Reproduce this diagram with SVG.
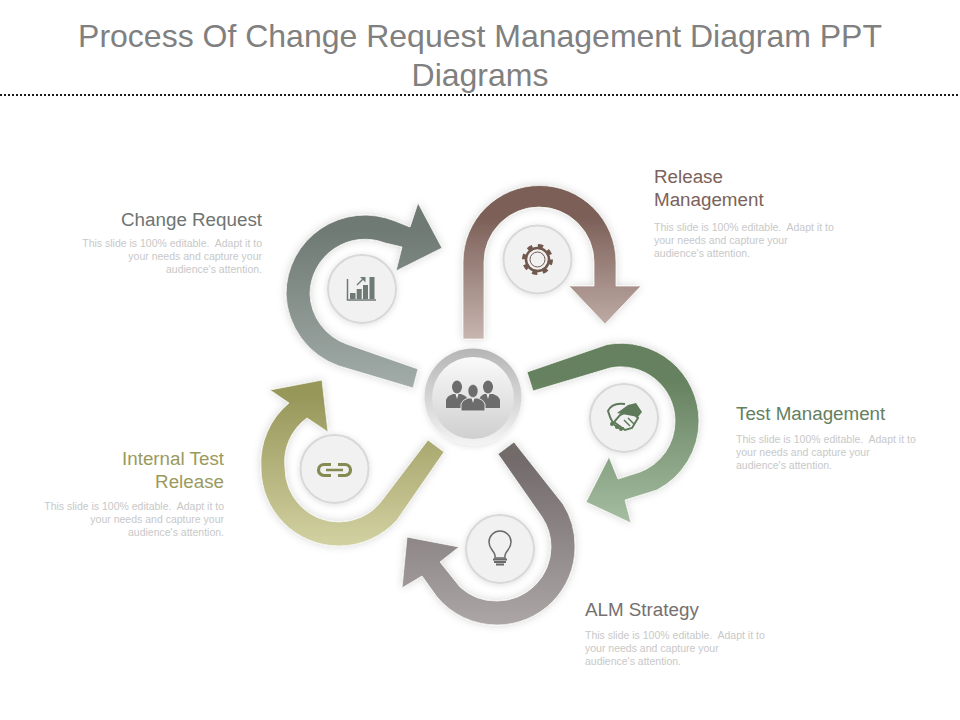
<svg xmlns="http://www.w3.org/2000/svg" width="960" height="720" viewBox="0 0 960 720">
<style>
text{font-family:"Liberation Sans",Arial,sans-serif;white-space:pre}
.t{font-size:32px;fill:#808080;text-anchor:middle}
.h{font-size:18.8px}
.b{font-size:10.5px;fill:#c8c8c8}
.e{text-anchor:end}
.disc{fill:#f1f1f1;stroke:#d8d8d8;stroke-width:2;filter:url(#sh)}
.arrow{stroke:#f6f6f2;stroke-width:.8;filter:url(#sh2)}
</style>
<defs>
<filter id="sh" x="-30%" y="-30%" width="160%" height="160%"><feDropShadow dx="0" dy="1" stdDeviation="3" flood-color="#000" flood-opacity=".13"/></filter>
<filter id="sh2" x="-20%" y="-20%" width="140%" height="140%"><feDropShadow dx="0" dy="0" stdDeviation="4" flood-color="#000" flood-opacity=".16"/></filter>
<linearGradient id="g1" x1="0" y1="0" x2="0" y2="1"><stop offset=".15" stop-color="#6f7a75"/><stop offset="1" stop-color="#a2aca8"/></linearGradient>
<linearGradient id="g2" x1="0" y1="0" x2="0" y2="1"><stop offset=".2" stop-color="#7b5f57"/><stop offset="1" stop-color="#c7b5af"/></linearGradient>
<linearGradient id="g3" x1="0" y1="0" x2="0" y2="1"><stop offset=".2" stop-color="#65815f"/><stop offset="1" stop-color="#a5bda1"/></linearGradient>
<linearGradient id="g4" x1="0" y1="0" x2="0" y2="1"><stop offset=".1" stop-color="#736a6b"/><stop offset="1" stop-color="#aca6a6"/></linearGradient>
<linearGradient id="g5" x1="0" y1="0" x2="0" y2="1"><stop offset=".1" stop-color="#98975a"/><stop offset="1" stop-color="#d2d1a2"/></linearGradient>
<linearGradient id="ring" x1="0" y1="0" x2="0" y2="1"><stop offset="0" stop-color="#b5b5b5"/><stop offset="1" stop-color="#f4f4f4"/></linearGradient>
<linearGradient id="core" x1="0" y1="0" x2="0" y2="1"><stop offset="0" stop-color="#fafafa"/><stop offset="1" stop-color="#cfcfcf"/></linearGradient>
</defs>
<rect width="960" height="720" fill="#fff"/>
<g id="title">
<text class="t" x="480" y="47">Process Of Change Request Management Diagram PPT</text>
<text class="t" x="480" y="86">Diagrams</text>
<line x1="0" y1="95" x2="960" y2="95" stroke="#1a1a1a" stroke-width="2" stroke-dasharray="2 2"/>
</g>
<g id="connectors">
<path class="arrow" fill="url(#g1)" d="M418,369 L346.500,344 A55,55 0 0 1 310,294 A55,55 0 0 1 385,243 L402,247 L396,271 L442,248 L418,203 L410,227 L395,221 A79,79 0 0 0 286,294 A79,79 0 0 0 339,366 L413,388 Z"/>
<path class="arrow" fill="url(#g2)" d="M463,339 V262 A76.500,76.500 0 0 1 616,262 V286 H641 L605,324 L569,286 H594 V262 A55,55 0 0 0 484,262 V339 Z"/>
<path class="arrow" fill="url(#g3)" d="M527,372 L607,344.500 A78,78 0 0 1 699,421 A78,78 0 0 1 657,490 L625,500 L631,523 L586,502 L609,457 L618,479 L640,472 A54,54 0 0 0 675,421 A54,54 0 0 0 610,368 L533,391 Z"/>
<path class="arrow" fill="url(#g4)" d="M514,442 L563,504 A78,78 0 0 1 575,547 A78,78 0 0 1 497,625 A78,78 0 0 1 437,597 L422,576 L402,588 L407,537 L459,547 L440,562 L460,587 A54,54 0 0 0 497,601 A54,54 0 0 0 551,547 A54,54 0 0 0 542,517 L498,454 Z"/>
<path class="arrow" fill="url(#g5)" d="M444,452 L397,520 A78,78 0 0 1 339,546 A78,78 0 0 1 261,468 A78,78 0 0 1 289,403 L270,390 L322,380 L328,432 L307,418 A54,54 0 0 0 285,468 A54,54 0 0 0 339,522 A54,54 0 0 0 380,503 L428,440 Z"/>
</g>
<g id="node-center">
<circle cx="473" cy="397" r="48.500" fill="url(#ring)" filter="url(#sh)"/>
<circle cx="473" cy="398" r="41" fill="url(#core)"/>
<g fill="#6c6c6c">
<ellipse cx="457" cy="387" rx="5" ry="6.500"/><path d="M446,408 V400 Q447,396 453,394 H461 Q467,396 468,400 V408 Z"/>
<ellipse cx="488" cy="387" rx="5" ry="6.500"/><path d="M479,408 V400 Q480,396 484,394 H493 Q499,396 500,400 V408 Z"/>
<path d="M461,411 V404 Q462,400 468,398 H478 Q484,400 485,404 V411 Z" stroke="#e4e4e4" stroke-width="1"/>
<ellipse cx="473" cy="391" rx="5" ry="6.500" stroke="#e4e4e4" stroke-width=".6"/>
</g>
<path d="M471.500,398 L473,403 L474.500,398 Z M455.500,394 L457,399 L458.500,394 Z M486.500,394 L488,399 L489.500,394 Z" fill="#eee"/>
</g>
<g id="node-change-request">
<circle class="disc" cx="362" cy="289" r="34"/>
<path d="M347.500,279 V300 H376" fill="none" stroke="#6f7a75" stroke-width="1.500"/>
<path d="M350,293 h5.500 v6 h-5.500 Z M356.700,289 h5 v10 h-5 Z M363,285 h5 v14 h-5 Z M369.500,277 h5 v22 h-5 Z" fill="#6f7a75"/>
<path d="M357,285 L363,279" stroke="#6f7a75" stroke-width="1.500"/>
<path d="M360,277 H365.500 V282.500 Z" fill="#6f7a75"/>
<text class="h e" x="262" y="226" fill="#6e7472">Change Request</text>
<text class="b e" x="262" y="247">This slide is 100% editable.  Adapt it to</text>
<text class="b e" x="262" y="260">your needs and capture your</text>
<text class="b e" x="262" y="273">audience's attention.</text>
</g>
<g id="node-release-management">
<circle class="disc" cx="537.500" cy="259.500" r="34"/>
<circle cx="537.500" cy="259.500" r="13" fill="none" stroke="#72594f" stroke-width="5" stroke-dasharray="5 5.200"/>
<circle cx="537.500" cy="259.500" r="11.500" fill="none" stroke="#72594f" stroke-width="2.500"/>
<circle cx="537.500" cy="259.500" r="7.500" fill="none" stroke="#72594f" stroke-width="1"/>
<text class="h" x="654" y="183" fill="#7b625a">Release</text>
<text class="h" x="654" y="206" fill="#7b625a">Management</text>
<text class="b" x="654" y="231">This slide is 100% editable.  Adapt it to</text>
<text class="b" x="654" y="244">your needs and capture your</text>
<text class="b" x="654" y="257">audience's attention.</text>
</g>
<g id="node-test-management">
<circle class="disc" cx="624" cy="418" r="34"/>
<path d="M625,404 Q612,402 608,411 Q610,418 613,423 Q618,430 624,428" fill="none" stroke="#5f7a5a" stroke-width="2"/>
<path d="M617,413 L628,405 L636,403 L642,412 L638,417 Z" fill="#5f7a5a"/>
<path d="M620,415 L630,410 L638,418 L632,428 L625,430 L614,422 Z" fill="none" stroke="#5f7a5a" stroke-width="2"/>
<path d="M624,420 L630,426 M628,418 L634,424" stroke="#5f7a5a" stroke-width="1.500"/>
<circle cx="612" cy="424" r="2" fill="#5f7a5a"/><circle cx="617" cy="427" r="2" fill="#5f7a5a"/><circle cx="621" cy="429" r="2" fill="#5f7a5a"/>
<text class="h" x="736" y="420" fill="#64805f">Test Management</text>
<text class="b" x="736" y="443">This slide is 100% editable.  Adapt it to</text>
<text class="b" x="736" y="456">your needs and capture your</text>
<text class="b" x="736" y="469">audience's attention.</text>
</g>
<g id="node-alm-strategy">
<circle class="disc" cx="500" cy="549" r="34"/>
<path d="M495,558 V555 C493,549 489,549 489,542 A11,11 0 0 1 511,542 C511,549 507,549 505,555 V558 Z" fill="none" stroke="#6a6a6a" stroke-width="1.500"/>
<path d="M493,559.500 H507 M494,562 H506 M496,564.500 H504" stroke="#6a6a6a" stroke-width="1.800"/>
<text class="h" x="585" y="616" fill="#757070">ALM Strategy</text>
<text class="b" x="585" y="639">This slide is 100% editable.  Adapt it to</text>
<text class="b" x="585" y="652">your needs and capture your</text>
<text class="b" x="585" y="665">audience's attention.</text>
</g>
<g id="node-internal-test-release">
<circle class="disc" cx="334.500" cy="469" r="34"/>
<g fill="none" stroke="#858a50" stroke-width="3.200">
<path d="M331,464.500 H324 A5.500,5.500 0 0 0 324,475.500 H331"/>
<path d="M338,464.500 H345 A5.500,5.500 0 0 1 345,475.500 H338"/>
<path d="M326,470 H343" stroke-width="2.500"/>
</g>
<text class="h e" x="224" y="465" fill="#9a9a5c">Internal Test</text>
<text class="h e" x="224" y="488" fill="#9a9a5c">Release</text>
<text class="b e" x="224" y="510">This slide is 100% editable.  Adapt it to</text>
<text class="b e" x="224" y="523">your needs and capture your</text>
<text class="b e" x="224" y="536">audience's attention.</text>
</g>
</svg>
